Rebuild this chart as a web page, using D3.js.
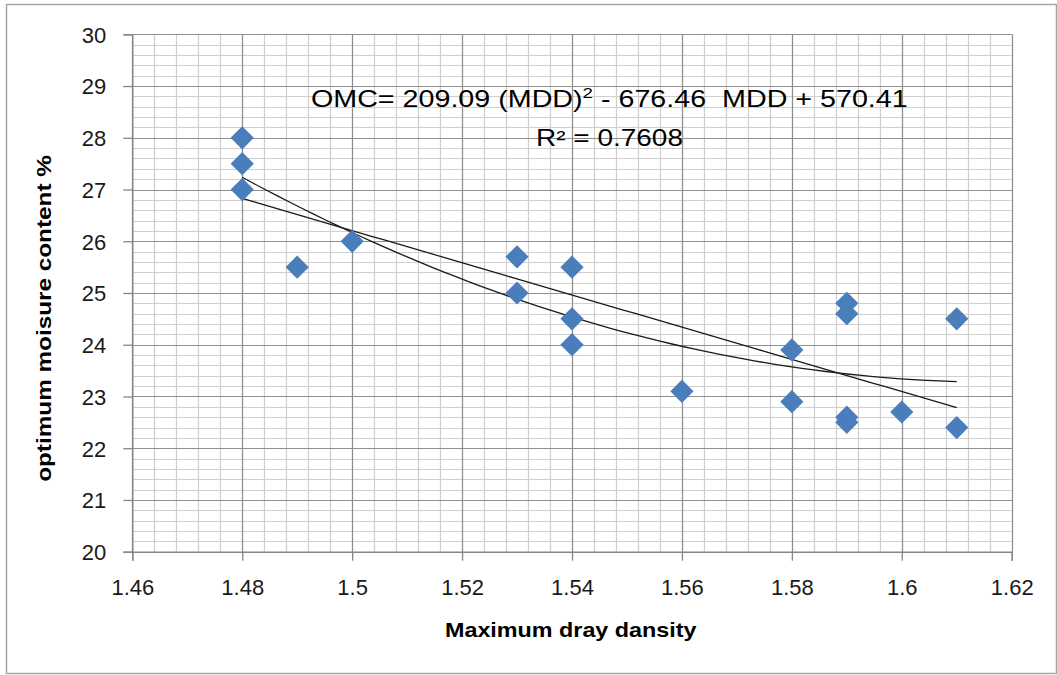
<!DOCTYPE html>
<html><head><meta charset="utf-8">
<script src="https://cdn.jsdelivr.net/npm/d3@7"></script>
<style>
html,body{margin:0;padding:0;background:#fff;}
svg{display:block;}
text{font-family:"Liberation Sans",Arial,sans-serif;}
</style></head>
<body>
<svg id="chart" width="1057" height="675"></svg>
<script>
// ---- data ----
const mdd = [1.48,1.48,1.48,1.49,1.50,1.53,1.53,1.54,1.54,1.54,1.56,1.58,1.58,1.59,1.59,1.59,1.59,1.60,1.61,1.61];
const omc = [28.0,27.5,27.0,25.5,26.0,25.7,25.0,25.5,24.5,24.0,23.1,23.9,22.9,24.8,24.6,22.6,22.5,22.7,24.5,22.4];
const xTicks = [1.46,1.48,1.50,1.52,1.54,1.56,1.58,1.60,1.62];
const yTicks = [20,21,22,23,24,25,26,27,28,29,30];
const xTitle = "Maximum dray dansity";
const yTitle = "optimum moisure content %";
const eqText = ["OMC= 209.09 (MDD)", "2", " - 676.46 \u00A0MDD + 570.41"];
const r2Text = "R² = 0.7608";

const svg = d3.select("#chart");
const x = d3.scaleLinear().domain([1.46,1.62]).range([132.3,1011.7]);
const y = d3.scaleLinear().domain([20,30]).range([551.7,34.3]);

// outer border
svg.append("rect").attr("x",6.5).attr("y",4.5).attr("width",1050).attr("height",669)
  .attr("fill","none").attr("stroke","#a6a6a6").attr("stroke-width",1.5);

// minor grid
const g = svg.append("g");
const minorX = d3.range(0,41).map(i=>1.46+i*0.004);
const minorY = d3.range(0,51).map(i=>20+i*0.2);
g.selectAll(".mx").data(minorX).enter().append("line")
  .attr("x1",d=>Math.round(x(d))+0.5).attr("x2",d=>Math.round(x(d))+0.5)
  .attr("y1",y(30)).attr("y2",y(20)).attr("stroke","#cfcfcf").attr("stroke-width",1.2);
g.selectAll(".my").data(minorY).enter().append("line")
  .attr("y1",d=>Math.round(y(d))+0.5).attr("y2",d=>Math.round(y(d))+0.5)
  .attr("x1",x(1.46)).attr("x2",x(1.62)).attr("stroke","#cfcfcf").attr("stroke-width",1.2);
// major grid
g.selectAll(".Mx").data(xTicks).enter().append("line")
  .attr("x1",d=>Math.round(x(d))+0.5).attr("x2",d=>Math.round(x(d))+0.5)
  .attr("y1",y(30)).attr("y2",y(20)).attr("stroke","#8f8f8f").attr("stroke-width",1.2);
g.selectAll(".My").data(yTicks).enter().append("line")
  .attr("y1",d=>Math.round(y(d))+0.5).attr("y2",d=>Math.round(y(d))+0.5)
  .attr("x1",x(1.46)).attr("x2",x(1.62)).attr("stroke","#8f8f8f").attr("stroke-width",1.2);

// axes
const xAxis = d3.axisBottom(x).tickValues(xTicks).tickSize(9).tickPadding(18.5)
  .tickFormat(d=>String(+d.toFixed(2)));
const yAxis = d3.axisLeft(y).tickValues(yTicks).tickSize(9).tickPadding(17)
  .tickFormat(d=>String(d));
const gx = svg.append("g").attr("transform",`translate(0,${y(20)})`).call(xAxis);
const gy = svg.append("g").attr("transform",`translate(${x(1.46)},0)`).call(yAxis);
[gx,gy].forEach(a=>{
  a.select(".domain").attr("stroke","#868686").attr("stroke-width",1.3);
  a.selectAll(".tick line").attr("stroke","#868686").attr("stroke-width",1.3);
  a.selectAll(".tick text").attr("fill","#1a1a1a").style("font-size","22px")
   .style("font-family","'Liberation Sans',Arial,sans-serif");
});
gy.selectAll(".tick text").attr("dy","0.36em");
gx.selectAll(".tick text").attr("dy","0.71em");

// trend lines (least squares fits of the data)
function solve(A,b){
  const n=b.length; A=A.map((r,i)=>r.concat([b[i]]));
  for(let i=0;i<n;i++){
    let p=i; for(let k=i+1;k<n;k++) if(Math.abs(A[k][i])>Math.abs(A[p][i])) p=k;
    [A[i],A[p]]=[A[p],A[i]];
    for(let k=i+1;k<n;k++){const f=A[k][i]/A[i][i]; for(let j=i;j<=n;j++) A[k][j]-=f*A[i][j];}
  }
  const s=new Array(n).fill(0);
  for(let i=n-1;i>=0;i--){let t=A[i][n]; for(let j=i+1;j<n;j++) t-=A[i][j]*s[j]; s[i]=t/A[i][i];}
  return s;
}
function polyfit(xs,ys,deg){
  const m=deg+1; const A=[],b=[];
  for(let i=0;i<m;i++){A.push([]);for(let j=0;j<m;j++) A[i].push(d3.sum(xs,v=>Math.pow(v,i+j)));
    b.push(d3.sum(xs.map((v,k)=>Math.pow(v,i)*ys[k])));}
  return solve(A,b);
}
const lin = polyfit(mdd,omc,1), quad = polyfit(mdd,omc,2);
const xmin=d3.min(mdd), xmax=d3.max(mdd);
const xs = d3.range(0,61).map(i=>xmin+(xmax-xmin)*i/60);
const line = d3.line().x(d=>x(d[0])).y(d=>y(d[1]));
svg.append("path").datum(xs.map(v=>[v,lin[0]+lin[1]*v]))
  .attr("d",line).attr("fill","none").attr("stroke","#1a1a1a").attr("stroke-width",1.3);
svg.append("path").datum(xs.map(v=>[v,quad[0]+quad[1]*v+quad[2]*v*v]))
  .attr("d",line).attr("fill","none").attr("stroke","#1a1a1a").attr("stroke-width",1.3);

// points
const diamond = d3.symbol().type(d3.symbolSquare).size(270);
svg.append("g").selectAll("path").data(mdd.map((v,i)=>[v,omc[i]])).enter().append("path")
  .attr("d",diamond).attr("fill","#4a7ebb")
  .attr("transform",d=>`translate(${x(d[0])},${y(d[1])}) rotate(45)`);

// stretch a text horizontally so it spans a target width from its anchor
function fitWidth(sel, x0, target){
  const w = sel.node().getBBox().width;
  const s = target / w;
  sel.attr("transform", `translate(${x0},0) scale(${s},1) translate(${-x0},0)`);
}

// equation
const eq = svg.append("text").attr("x",311).attr("y",107).style("font-size","23px").attr("fill","#000");
eq.append("tspan").text(eqText[0]);
eq.append("tspan").text(eqText[1]).attr("dy",-9).style("font-size","15px");
eq.append("tspan").text(eqText[2]).attr("dy",9);
fitWidth(eq, 311, 597);
const r2 = svg.append("text").attr("x",536).attr("y",146).style("font-size","23px").attr("fill","#000").text(r2Text);
fitWidth(r2, 536, 147);

// axis titles
const xt = svg.append("text").attr("x",445).attr("y",637)
  .style("font-size","21px").style("font-weight","bold").text(xTitle);
fitWidth(xt, 445, 252);
const yt = svg.append("text").attr("x",0).attr("y",0).attr("text-anchor","middle")
  .style("font-size","20px").style("font-weight","bold").text(yTitle);
const yw = yt.node().getBBox().width;
yt.attr("transform",`translate(51,318.5) rotate(-90) scale(${327/yw},1)`);
</script>
</body></html>
